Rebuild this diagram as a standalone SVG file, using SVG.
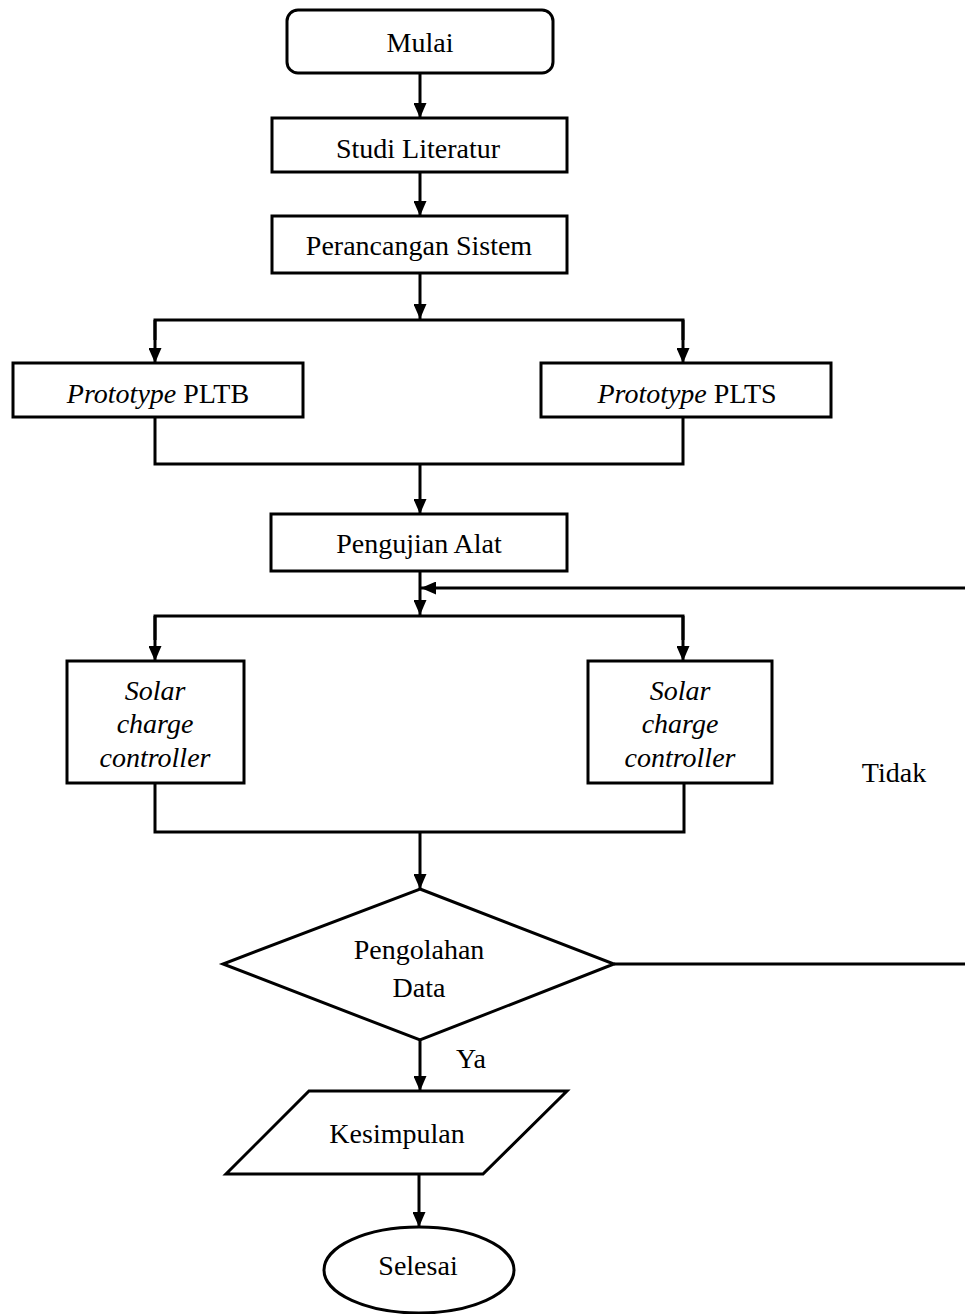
<svg xmlns="http://www.w3.org/2000/svg" width="965" height="1314" viewBox="0 0 965 1314">
<style>
.s{fill:#fff;stroke:#000;stroke-width:3}
.c{fill:none;stroke:#000;stroke-width:3}
.t{font-family:"Liberation Serif","Times New Roman",serif;font-size:28px;fill:#000;text-anchor:middle}
.i{font-style:italic}
</style>
<defs>
<marker id="ah" viewBox="0 0 15 13" refX="15" refY="6.5" markerWidth="15" markerHeight="13" markerUnits="userSpaceOnUse" orient="auto">
<path d="M0,0 L15,6.5 L0,13 z" fill="#000"/>
</marker>
</defs>
<g id="connectors">
<line class="c" x1="420" y1="73" x2="420" y2="118" marker-end="url(#ah)"/>
<line class="c" x1="420" y1="172" x2="420" y2="216" marker-end="url(#ah)"/>
<line class="c" x1="420" y1="273" x2="420" y2="319" marker-end="url(#ah)"/>
<polyline class="c" points="155,340 155,320 683,320 683,340"/>
<line class="c" x1="155" y1="320" x2="155" y2="363" marker-end="url(#ah)"/>
<line class="c" x1="683" y1="320" x2="683" y2="363" marker-end="url(#ah)"/>
<polyline class="c" points="155,417 155,464 683,464 683,417"/>
<line class="c" x1="420" y1="464" x2="420" y2="514" marker-end="url(#ah)"/>
<line class="c" x1="420" y1="571" x2="420" y2="615" marker-end="url(#ah)"/>
<line class="c" x1="965" y1="588" x2="421" y2="588" marker-end="url(#ah)"/>
<polyline class="c" points="155,640 155,616 683,616 683,640"/>
<line class="c" x1="155" y1="616" x2="155" y2="661" marker-end="url(#ah)"/>
<line class="c" x1="683" y1="616" x2="683" y2="661" marker-end="url(#ah)"/>
<polyline class="c" points="155,783 155,832 684,832 684,783"/>
<line class="c" x1="420" y1="832" x2="420" y2="889" marker-end="url(#ah)"/>
<line class="c" x1="614" y1="964" x2="965" y2="964"/>
<line class="c" x1="420" y1="1040" x2="420" y2="1091" marker-end="url(#ah)"/>
<line class="c" x1="419" y1="1174" x2="419" y2="1227" marker-end="url(#ah)"/>
</g>
<g id="mulai"><rect class="s" x="287" y="10" width="266" height="63" rx="11"/><text class="t" x="420" y="52">Mulai</text></g>
<g id="studi"><rect class="s" x="272" y="118" width="295" height="54"/><text class="t" x="418" y="158">Studi Literatur</text></g>
<g id="perancangan"><rect class="s" x="272" y="216" width="295" height="57"/><text class="t" x="419" y="255">Perancangan Sistem</text></g>
<g id="pltb"><rect class="s" x="13" y="363" width="290" height="54"/><text class="t" x="158" y="403"><tspan class="i">Prototype</tspan>  PLTB</text></g>
<g id="plts"><rect class="s" x="541" y="363" width="290" height="54"/><text class="t" x="687" y="403"><tspan class="i">Prototype</tspan>  PLTS</text></g>
<g id="pengujian"><rect class="s" x="271" y="514" width="296" height="57"/><text class="t" x="419" y="553">Pengujian Alat</text></g>
<g id="scc1"><rect class="s" x="67" y="661" width="177" height="122"/><text class="t i" x="155" y="700">Solar</text><text class="t i" x="155" y="733">charge</text><text class="t i" x="155" y="767">controller</text></g>
<g id="scc2"><rect class="s" x="588" y="661" width="184" height="122"/><text class="t i" x="680" y="700">Solar</text><text class="t i" x="680" y="733">charge</text><text class="t i" x="680" y="767">controller</text></g>
<g id="tidak"><text class="t" x="894" y="782">Tidak</text></g>
<g id="pengolahan"><polygon class="s" points="420,889 614,964 420,1040 223,964"/><text class="t" x="419" y="959">Pengolahan</text><text class="t" x="419" y="997">Data</text></g>
<g id="ya"><text class="t" x="471" y="1068">Ya</text></g>
<g id="kesimpulan"><polygon class="s" points="309,1091 567,1091 483,1174 226,1174"/><text class="t" x="397" y="1143">Kesimpulan</text></g>
<g id="selesai"><ellipse class="s" cx="419" cy="1270" rx="95" ry="43"/><text class="t" x="418" y="1275">Selesai</text></g>
</svg>
